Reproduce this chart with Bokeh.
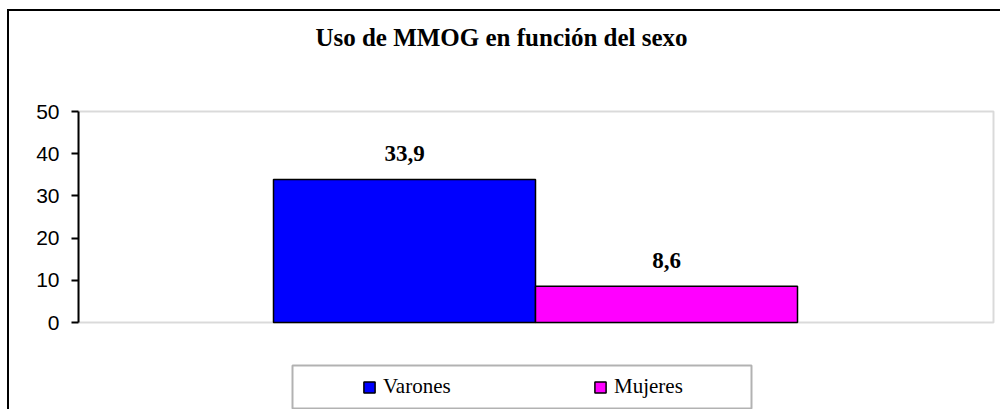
from bokeh.plotting import figure
from bokeh.models import (Range1d, BoxAnnotation, Label, Legend, LegendItem,
                          ColumnDataSource)
from bokeh.embed import file_html
from bokeh.resources import INLINE
from bokeh.core.properties import value

# ---- data ----
title_text = "Uso de MMOG en función del sexo"
categories = ["Varones", "Mujeres"]
values = [33.9, 8.6]
colors = ["#0000FF", "#FF00FF"]
y_ticks = [0, 10, 20, 30, 40, 50]

labels = [f"{v:.1f}".replace(".", ",") for v in values]
xpos = list(range(len(categories)))
src = ColumnDataSource(dict(x=xpos, top=values, label=labels))

SERIF = "Liberation Serif"

# ---- layout (pixels on the canvas) ----
W, H = 1000, 409
FRAME_L = 78            # plot-area left (y axis line)
PA_R = 993              # plot-area right
PA_TOP, PA_BOT = 111, 322
BAR0_L, BAR1_R = 273, 797
ymin, ymax = y_ticks[0], y_ticks[-1]
ppu_y = (PA_BOT - PA_TOP) / (ymax - ymin)
y_end = ymax + PA_TOP / ppu_y
y_start = ymin - (H - PA_BOT) / ppu_y
ppu_x = (BAR1_R - BAR0_L) / len(categories)
x_start = -0.5 - (BAR0_L - FRAME_L) / ppu_x
x_end = (len(categories) - 0.5) + (W - BAR1_R) / ppu_x

p = figure(width=W, height=H, output_backend="svg", toolbar_location=None,
           x_range=Range1d(x_start, x_end), y_range=Range1d(y_start, y_end),
           x_axis_location=None,
           min_border_left=FRAME_L, min_border_top=0, min_border_right=0, min_border_bottom=0)

p.xgrid.visible = False
p.ygrid.visible = False
p.outline_line_color = None
p.background_fill_color = None
p.border_fill_color = None
p.styles = {
    "background-color": "white",
    "background-image": "linear-gradient(#000,#000), linear-gradient(#000,#000)",
    "background-size": "2px 100%, 100% 2px",
    "background-position": "7px 9px, 7px 9px",
    "background-repeat": "no-repeat",
}

ax = p.yaxis[0]
ax.ticker = y_ticks
ax.bounds = (ymin, ymax)
ax.axis_line_color = "black"
ax.axis_line_width = 2
ax.major_tick_in = 0
ax.major_tick_out = 7
ax.major_tick_line_color = "black"
ax.major_tick_line_width = 2
ax.minor_tick_line_color = None
ax.major_label_standoff = 12
ax.major_label_text_font = "Liberation Sans"
ax.major_label_text_font_size = "21px"
ax.major_label_text_color = "black"

# plot area box
p.add_layout(BoxAnnotation(left=0, right=PA_R - FRAME_L, top=ymax, bottom=ymin,
                           left_units="screen", right_units="screen",
                           fill_color="white", fill_alpha=1,
                           line_color="#858585", line_width=2, level="underlay"))

renderers = []
for i in range(len(categories)):
    r = p.vbar(x=[xpos[i]], top=[values[i]], width=1.0, bottom=0,
               fill_color=colors[i], line_color="black", line_width=1.5)
    renderers.append(r)

p.text(x="x", y="top", text="label", source=src, text_align="center",
       text_baseline="alphabetic", y_offset=-26,
       text_font=value(SERIF), text_font_style="bold",
       text_font_size="23px", text_color="black")

# title
p.add_layout(Label(x=501 - FRAME_L, y=H - 37, x_units="screen", y_units="screen",
                   text=title_text, text_align="center", text_baseline="alphabetic",
                   text_font=SERIF, text_font_style="bold",
                   text_font_size="25px", text_color="black"))

# legend box
p.add_layout(BoxAnnotation(left=292 - FRAME_L, right=751 - FRAME_L, top=H - 365, bottom=H - 408,
                           left_units="screen", right_units="screen",
                           top_units="screen", bottom_units="screen",
                           fill_alpha=0, line_color="black", line_width=2))

legend = Legend(items=[LegendItem(label=categories[i], renderers=[renderers[i]])
                       for i in range(len(categories))],
                orientation="horizontal", location=(362 - FRAME_L, H - 399),
                padding=0, margin=0, spacing=60, label_width=150, label_height=24,
                glyph_width=14, glyph_height=14, label_standoff=7,
                label_text_font=SERIF, label_text_font_size="21px",
                label_text_color="black",
                background_fill_alpha=0, border_line_alpha=0)
p.add_layout(legend)

open("out.html", "w").write(file_html(p, INLINE))
